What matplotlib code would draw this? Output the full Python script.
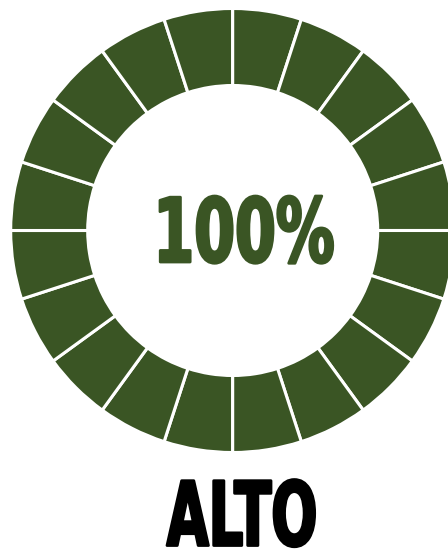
import matplotlib
matplotlib.use("Agg")
import matplotlib.pyplot as plt
from matplotlib.patheffects import AbstractPathEffect
from matplotlib.transforms import Affine2D

# data
n_segments = 20
segment_values = [1] * n_segments
percent_label = "100%"
level_label = "ALTO"

green = "#3a5524"


class Narrow(AbstractPathEffect):
    # squeeze the glyphs horizontally around the text anchor (condensed look)
    def __init__(self, ax, anchor, sx, lw):
        super().__init__()
        self.ax = ax
        self.anchor = anchor
        self.sx = sx
        self.lw = lw

    def draw_path(self, renderer, gc, tpath, affine, rgbFace):
        cx = self.ax.transData.transform(self.anchor)[0]
        squeeze = Affine2D().translate(-cx, 0).scale(self.sx, 1).translate(cx, 0)
        gc0 = renderer.new_gc()
        gc0.copy_properties(gc)
        gc0.set_linewidth(self.lw)
        gc0.set_foreground(rgbFace, isRGBA=True)
        renderer.draw_path(gc0, tpath, affine + squeeze, rgbFace)
        gc0.restore()


fig = plt.figure(figsize=(4.48, 5.49), dpi=100)
ax = fig.add_axes([0, 0, 1, 1])

cx, cy = 232.7, 230.5
r_out = 222.0
ring = 77.0

ax.pie(segment_values, colors=[green] * n_segments, startangle=90,
       center=(cx, cy), radius=r_out,
       wedgeprops=dict(width=ring, edgecolor="white", linewidth=2.2))

ax.set_xlim(0, 448)
ax.set_ylim(549, 0)
ax.set_aspect("equal")
ax.axis("off")

t1 = ax.text(244, 262, percent_label, ha="center", va="baseline",
             fontsize=64, fontweight="bold", color=green, family="DejaVu Sans")
t1.set_path_effects([Narrow(ax, (244, 262), 0.66, 2.0)])

t2 = ax.text(242, 545.5, level_label, ha="center", va="baseline",
             fontsize=64, fontweight="bold", color="black", family="DejaVu Sans")
t2.set_path_effects([Narrow(ax, (242, 545.5), 0.61, 2.0)])

fig.savefig("out.png", dpi=100, facecolor="white")
